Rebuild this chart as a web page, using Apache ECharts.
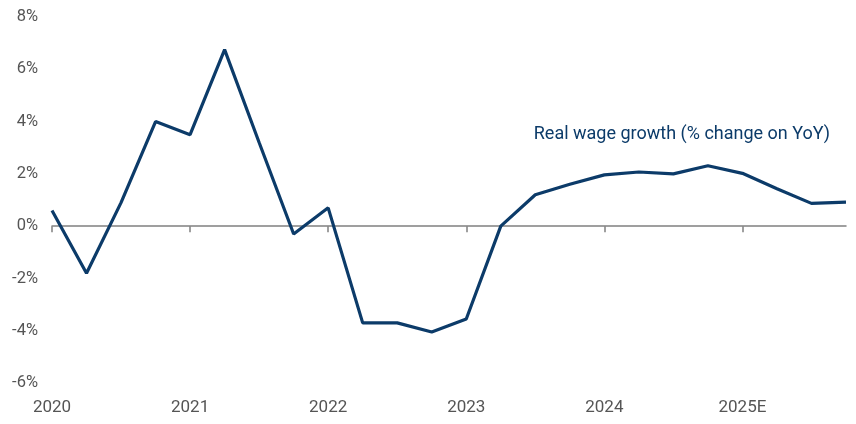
<!DOCTYPE html>
<html>
<head>
<meta charset="utf-8">
<script src="https://cdn.jsdelivr.net/npm/echarts@6/dist/echarts.min.js"></script>
<style>
  html, body { margin: 0; padding: 0; background: #fff; }
  #chart { width: 856px; height: 424px; }
</style>
</head>
<body>
<div id="chart"></div>
<script>
// quarterly points, 2020 Q1 .. 2025 Q4
var quarters = [
  '2020Q1','2020Q2','2020Q3','2020Q4',
  '2021Q1','2021Q2','2021Q3','2021Q4',
  '2022Q1','2022Q2','2022Q3','2022Q4',
  '2023Q1','2023Q2','2023Q3','2023Q4',
  '2024Q1','2024Q2','2024Q3','2024Q4',
  '2025Q1','2025Q2','2025Q3','2025Q4'
];
var yearLabels = ['2020', '2021', '2022', '2023', '2024', '2025E'];
var realWage = [
  0.6, -1.8, 0.9, 4.0,
  3.5, 6.75, 3.2, -0.3,
  0.7, -3.7, -3.7, -4.05,
  -3.55, 0.0, 1.2, 1.6,
  1.96, 2.07, 2.0, 2.31,
  2.02, 1.43, 0.87, 0.92
];
var yTicks = { min: -6, max: 8, step: 2 };
var seriesName = 'Real wage growth (% change on YoY)';

var navy = '#0c3b69';
var grey = '#555';

var isYearStart = function (i) { return i % 4 === 0; };

var option = {
  animation: false,
  textStyle: { fontFamily: 'Roboto' },
  grid: { left: 52, right: 10, top: 17, bottom: 41 },
  xAxis: [
    {
      // zero line with year ticks
      type: 'category',
      data: quarters,
      boundaryGap: false,
      axisLine: { onZero: true, lineStyle: { color: '#808080', width: 1.5 } },
      axisTick: { show: true, interval: function (i) { return isYearStart(i); }, length: 6, lineStyle: { color: '#808080', width: 1.5 } },
      axisLabel: { show: false },
      splitLine: { show: false }
    },
    {
      // year labels along the bottom
      type: 'category',
      data: quarters,
      boundaryGap: false,
      position: 'bottom',
      axisLine: { show: false, onZero: false },
      axisTick: { show: false },
      axisLabel: {
        interval: function (i) { return isYearStart(i); },
        formatter: function (v, i) { return yearLabels[i / 4]; },
        color: grey,
        fontSize: 17,
        margin: 16
      },
      splitLine: { show: false }
    }
  ],
  yAxis: {
    type: 'value',
    min: yTicks.min,
    max: yTicks.max,
    interval: yTicks.step,
    axisLine: { show: false },
    axisTick: { show: false },
    splitLine: { show: false },
    axisLabel: {
      formatter: '{value}%',
      color: grey,
      fontSize: 16.5,
      margin: 14
    }
  },
  graphic: [
    {
      type: 'text',
      right: 26,
      top: 125,
      style: {
        text: seriesName,
        fill: navy,
        fontSize: 18,
        fontFamily: 'Roboto'
      }
    }
  ],
  series: [
    {
      name: seriesName,
      type: 'line',
      xAxisIndex: 0,
      data: realWage,
      showSymbol: false,
      lineStyle: { color: navy, width: 3.2 },
      itemStyle: { color: navy }
    }
  ]
};

echarts.init(document.getElementById('chart')).setOption(option);
</script>
</body>
</html>
